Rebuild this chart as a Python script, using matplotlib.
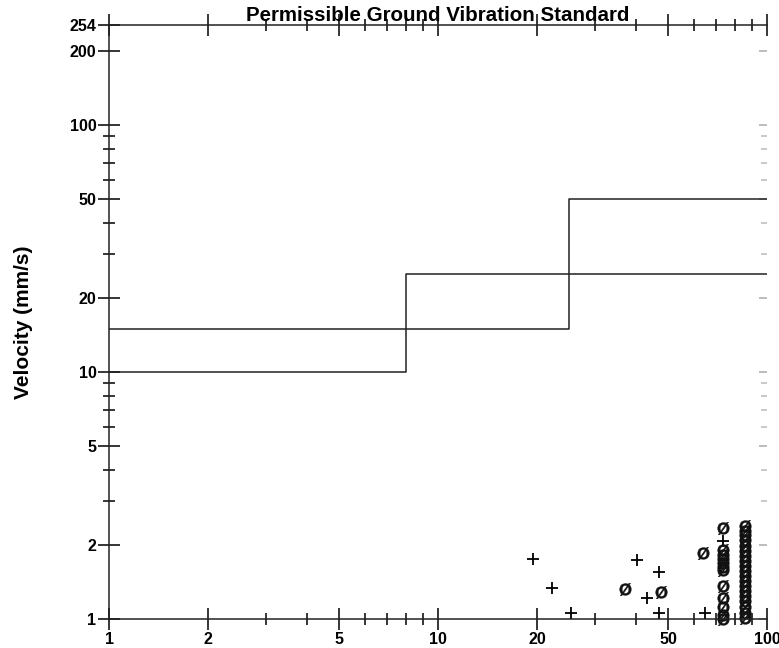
###############################################################################
# Permissible ground vibration standard: velocity vs frequency (log-log)
###############################################################################
import matplotlib
matplotlib.use('Agg')
import matplotlib.pyplot as plt
from matplotlib.ticker import FixedLocator, FixedFormatter, NullFormatter

# standard limit lines (frequency Hz, velocity mm/s)
limit_low_freq = [1, 8, 8, 100]
limit_low_vel = [10, 10, 25, 25]
limit_high_freq = [1, 25, 25, 100]
limit_high_vel = [15, 15, 50, 50]

# measured events shown as '+'
plus_freq = [19.5, 22.2, 25.3, 40.3, 43.3, 47.1, 47.0, 64.7, 73.5]
plus_vel = [1.75, 1.33, 1.06, 1.74, 1.22, 1.55, 1.06, 1.06, 2.07]

# measured events shown as 'Ø'
slash_freq = [37.0, 47.6, 63.9,
              73.5, 73.5, 73.5, 73.5, 73.5, 73.5, 73.5, 73.5, 73.5, 73.5, 73.5, 73.5,
              85.7, 85.7, 85.7, 85.7, 85.7, 85.7, 85.7, 85.7, 85.7, 85.7,
              85.7, 85.7, 85.7, 85.7, 85.7, 85.7, 85.7, 85.7, 85.7]
slash_vel = [1.32, 1.29, 1.85,
             2.33, 1.90, 1.82, 1.75, 1.68, 1.62, 1.58, 1.36, 1.22, 1.12, 1.04, 1.0,
             2.38, 2.28, 2.18, 2.08, 1.98, 1.89, 1.80, 1.72, 1.64, 1.57,
             1.50, 1.43, 1.36, 1.30, 1.24, 1.18, 1.12, 1.06, 1.01]

# axis ticks
x_major = [1, 2, 5, 10, 20, 50, 100]
x_labels = ['1', '2', '5', '10', '20', '50', '100']
x_minor = [3, 4, 6, 7, 8, 9, 30, 40, 60, 70, 80, 90]
y_major = [1, 2, 5, 10, 20, 50, 100, 200, 254]
y_labels = ['1', '2', '5', '10', '20', '50', '100', '200', '254']
y_minor = [3, 4, 6, 7, 8, 9, 30, 40, 60, 70, 80, 90]


def main():
    plt.rcParams['font.family'] = ['Liberation Sans', 'DejaVu Sans']
    plt.rcParams['font.weight'] = 'bold'
    plt.rcParams['mathtext.default'] = 'regular'  # upright Ø marker

    fig = plt.figure(figsize=(7.79, 6.48), dpi=100)
    # axes box in pixels: left 109, right 767, top 25, bottom 619
    ax = fig.add_axes([109 / 779, 1 - 619 / 648, 658 / 779, 594 / 648])
    ax.set_xscale('log')
    ax.set_yscale('log')
    ax.set_xlim(1, 100)
    ax.set_ylim(1, 254)

    # limit lines
    ax.plot(limit_low_freq, limit_low_vel, color='#222222', lw=1.1)
    ax.plot(limit_high_freq, limit_high_vel, color='#222222', lw=1.1)

    # events
    ax.plot(plus_freq, plus_vel, ls='none', marker='+', ms=9, mew=1.3,
            color='black', clip_on=False)
    ax.plot(slash_freq, slash_vel, ls='none', marker='$Ø$', ms=9,
            mew=0.3, color='#111111', clip_on=False)

    # ticks
    ax.xaxis.set_major_locator(FixedLocator(x_major))
    ax.xaxis.set_major_formatter(FixedFormatter(x_labels))
    ax.xaxis.set_minor_locator(FixedLocator(x_minor))
    ax.xaxis.set_minor_formatter(NullFormatter())
    ax.yaxis.set_major_locator(FixedLocator(y_major))
    ax.yaxis.set_major_formatter(FixedFormatter(y_labels))
    ax.yaxis.set_minor_locator(FixedLocator(y_minor))
    ax.yaxis.set_minor_formatter(NullFormatter())

    ax.tick_params(axis='both', which='major', direction='inout', length=16,
                   width=1.1, pad=1, labelsize=11.5)
    ax.tick_params(axis='both', which='minor', direction='inout', length=8,
                   width=1.1)
    ax.tick_params(axis='x', which='both', top=True)
    ax.tick_params(axis='y', which='both', right=False)

    for side in ['left', 'bottom', 'top']:
        ax.spines[side].set_linewidth(1.1)
        ax.spines[side].set_color('#222222')
    ax.spines['right'].set_visible(False)

    # faint ticks on the right edge
    right = ax.secondary_yaxis('right')
    right.yaxis.set_major_locator(FixedLocator(y_major[:-1]))
    right.yaxis.set_minor_locator(FixedLocator(y_minor))
    right.yaxis.set_major_formatter(NullFormatter())
    right.yaxis.set_minor_formatter(NullFormatter())
    right.tick_params(which='major', direction='in', length=6, width=1.1,
                      color='#aaaaaa')
    right.tick_params(which='minor', direction='in', length=4, width=1.1,
                      color='#bbbbbb')
    right.spines['right'].set_visible(False)

    # labels
    ax.set_ylabel('Velocity (mm/s)', fontsize=15, fontweight='bold')
    ax.yaxis.set_label_coords(-0.115, 0.5)
    fig.text(438 / 779, 1 - 21 / 648, 'Permissible Ground Vibration Standard',
             ha='center', va='baseline', fontsize=14.8, fontweight='bold')

    plt.savefig('out.png', dpi=100)


if __name__ == '__main__':
    main()
